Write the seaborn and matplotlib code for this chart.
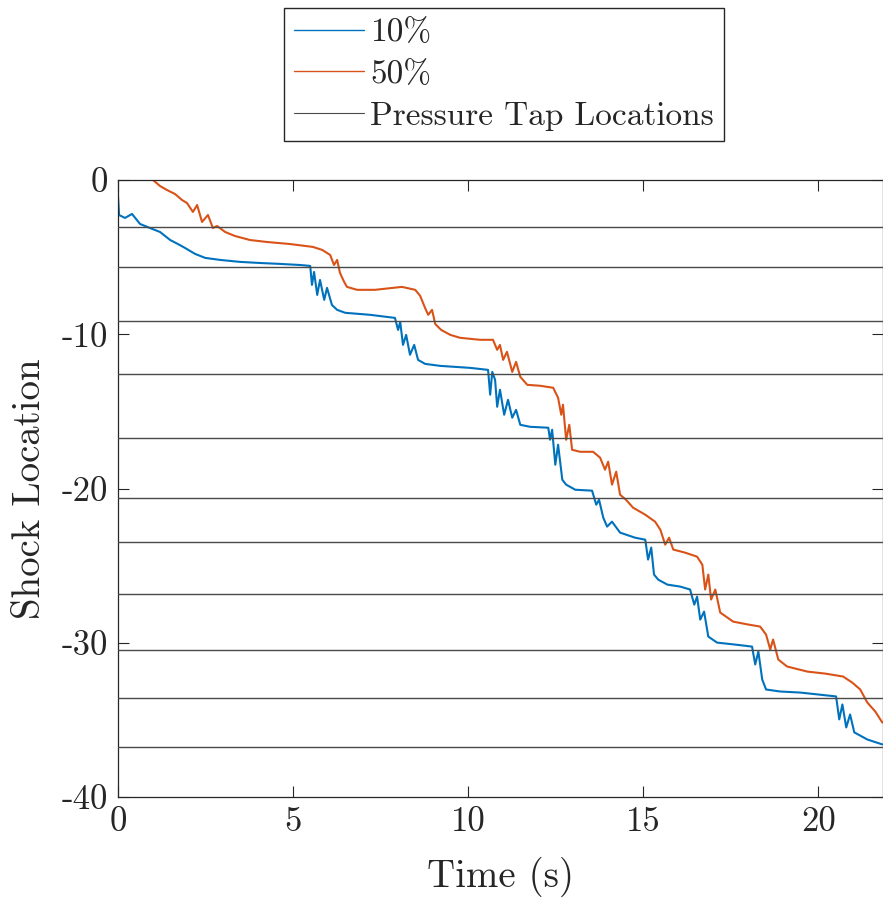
import pandas as pd
import matplotlib.pyplot as plt
import seaborn as sns

# shock location vs time
t_10 = [0.00, 0.03, 0.20, 0.40, 0.63, 0.91, 1.20, 1.49, 1.71, 1.91, 2.20, 2.49, 2.91, 3.49, 4.06, 4.63,
        5.20, 5.49, 5.54, 5.60, 5.69, 5.77, 5.89, 5.97, 6.11, 6.26, 6.49, 7.20, 7.91, 8.00, 8.06, 8.14,
        8.23, 8.34, 8.46, 8.57, 8.77, 9.20, 10.06, 10.57, 10.63, 10.69, 10.77, 10.83, 10.91, 11.03, 11.14,
        11.26, 11.37, 11.49, 11.77, 12.29, 12.34, 12.40, 12.49, 12.57, 12.69, 12.80, 13.06, 13.54, 13.66,
        13.74, 13.86, 13.97, 14.11, 14.34, 14.77, 15.06, 15.14, 15.23, 15.31, 15.43, 15.69, 16.06, 16.34,
        16.46, 16.54, 16.63, 16.74, 16.86, 17.11, 17.63, 18.11, 18.20, 18.29, 18.40, 18.51, 18.91, 19.49,
        20.51, 20.60, 20.69, 20.80, 20.91, 21.03, 21.40, 21.83]
loc_10 = [-1.04, -2.27, -2.46, -2.20, -2.85, -3.11, -3.37, -3.89, -4.15, -4.40, -4.79, -5.05, -5.18, -5.31,
          -5.38, -5.44, -5.51, -5.57, -6.80, -5.96, -7.45, -6.48, -7.77, -6.99, -8.10, -8.42, -8.61, -8.74,
          -8.94, -9.72, -9.20, -10.69, -10.04, -11.33, -10.69, -11.66, -11.92, -12.05, -12.18, -12.31, -13.92,
          -12.44, -12.95, -14.70, -13.60, -15.22, -14.25, -15.41, -14.90, -15.87, -16.00, -16.06, -16.84,
          -16.19, -18.46, -17.16, -19.43, -19.75, -20.08, -20.14, -21.05, -20.73, -21.89, -22.47, -22.15,
          -22.86, -23.19, -23.32, -24.61, -23.83, -25.58, -25.91, -26.23, -26.36, -26.55, -27.53, -27.01,
          -28.50, -27.98, -29.60, -29.99, -30.12, -30.25, -31.41, -30.57, -32.38, -33.03, -33.16, -33.23,
          -33.48, -34.97, -34.00, -35.49, -34.65, -35.81, -36.27, -36.59]

t_50 = [1.00, 1.20, 1.40, 1.63, 1.83, 1.97, 2.14, 2.26, 2.40, 2.57, 2.71, 2.83, 3.06, 3.34, 3.77, 4.26,
        4.91, 5.57, 5.83, 6.06, 6.17, 6.26, 6.34, 6.46, 6.54, 6.83, 7.34, 8.11, 8.49, 8.63, 8.77, 8.86,
        8.97, 9.06, 9.23, 9.49, 9.77, 10.34, 10.71, 10.83, 10.91, 11.00, 11.11, 11.26, 11.37, 11.49, 11.69,
        12.06, 12.43, 12.57, 12.66, 12.71, 12.80, 12.89, 12.97, 13.20, 13.57, 13.77, 13.91, 14.00, 14.11,
        14.23, 14.34, 14.51, 14.71, 15.06, 15.34, 15.49, 15.63, 15.74, 15.86, 16.20, 16.54, 16.69, 16.77,
        16.86, 16.94, 17.06, 17.20, 17.57, 18.00, 18.34, 18.51, 18.63, 18.71, 18.86, 19.11, 19.69, 20.20,
        20.71, 20.97, 21.20, 21.40, 21.63, 21.83]
loc_50 = [0.00, -0.39, -0.65, -0.91, -1.30, -1.49, -2.07, -1.62, -2.72, -2.27, -3.11, -2.98, -3.37, -3.63,
          -3.89, -4.02, -4.15, -4.34, -4.53, -4.86, -5.51, -5.18, -6.02, -6.61, -6.93, -7.12, -7.12, -6.93,
          -7.12, -7.51, -8.29, -8.74, -8.42, -9.33, -9.72, -10.04, -10.23, -10.36, -10.36, -11.01, -10.69,
          -11.66, -11.14, -12.44, -11.79, -12.76, -13.28, -13.34, -13.47, -14.12, -15.22, -14.57, -16.84,
          -15.87, -17.49, -17.62, -17.62, -18.00, -18.78, -18.26, -19.75, -18.91, -20.40, -20.73, -21.24,
          -21.70, -22.15, -22.67, -23.64, -23.19, -23.96, -24.16, -24.42, -24.94, -26.55, -25.58, -27.20,
          -26.55, -28.04, -28.63, -28.82, -28.95, -29.47, -30.44, -29.79, -31.09, -31.54, -31.87, -32.00,
          -32.19, -32.58, -33.03, -33.87, -34.46, -35.17]

tap_locations = [-3.02, -5.65, -9.13, -12.58, -16.73, -20.64, -23.45, -26.81, -30.49, -33.61, -36.77]

x_ticks = [0, 5, 10, 15, 20]
y_ticks = [0, -10, -20, -30, -40]

df = pd.concat([
    pd.DataFrame({'t': t_10, 'loc': loc_10, 'series': '10%'}),
    pd.DataFrame({'t': t_50, 'loc': loc_50, 'series': '50%'}),
])

sns.set_style('ticks')
plt.rcParams['font.family'] = ['cmr10', 'DejaVu Serif']
plt.rcParams['mathtext.fontset'] = 'cm'
plt.rcParams['axes.unicode_minus'] = False

fig = plt.figure(figsize=(8.83, 9.01), dpi=100)
ax = fig.add_axes([118 / 883, 1 - 797 / 901, 765 / 883, 617 / 901])

sns.lineplot(data=df, x='t', y='loc', hue='series', palette=['#0072BD', '#D95319'],
             estimator=None, sort=False, linewidth=1.5, ax=ax, legend=False)

for i, y in enumerate(tap_locations):
    ax.axhline(y, color='#4a4a4a', linewidth=1.0, zorder=3,
               label='Pressure Tap Locations' if i == 0 else None)

ax.set_xlim(0, 21.85)
ax.set_ylim(-40, 0)
ax.set_xticks(x_ticks)
ax.set_xticklabels([str(v) for v in x_ticks])
ax.set_yticks(y_ticks)
ax.set_yticklabels([str(v) for v in y_ticks])
ax.tick_params(direction='in', length=8, width=0.8, labelsize=25, top=True, right=True, pad=7)
for s in ax.spines.values():
    s.set_linewidth(0.9)
    s.set_color('#262626')

ax.set_xlabel('Time (s)', fontsize=28, labelpad=13)
ax.set_ylabel('Shock Location', fontsize=28, labelpad=10)

handles = [plt.Line2D([], [], color='#0072BD', lw=1.0),
           plt.Line2D([], [], color='#D95319', lw=1.0),
           plt.Line2D([], [], color='#4a4a4a', lw=0.8)]
fig.legend(handles, ['10%', '50%', 'Pressure Tap Locations'], loc='upper center',
           bbox_to_anchor=(504 / 883, 1 - 8 / 901), fontsize=24, frameon=True, fancybox=False,
           edgecolor='#262626', framealpha=1, handlelength=2.1, handletextpad=0.2,
           labelspacing=0.37, borderpad=0.3, borderaxespad=0)

fig.savefig('out.png', dpi=100)
